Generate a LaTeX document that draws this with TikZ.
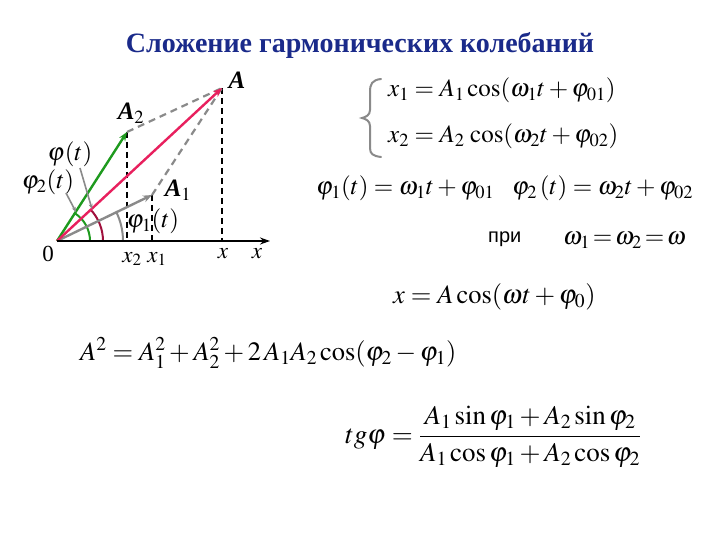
\documentclass[tikz,border=0pt]{standalone}
\usepackage{mathptmx}
\usepackage[no-math]{fontspec}
\setmainfont{Liberation Serif}
\newfontfamily\titlefont{Liberation Serif}
\newfontfamily\sansru{Liberation Sans}
\usetikzlibrary{arrows.meta}
\definecolor{titleblue}{HTML}{1A2A8A}
\definecolor{vecgreen}{HTML}{1E9A1E}
\definecolor{vecpink}{HTML}{E8205E}
\definecolor{arcred}{HTML}{A0103C}
\definecolor{vecgray}{HTML}{8A8A8A}
\begin{document}
\begin{tikzpicture}[x=1pt,y=-1pt,
  eq/.style={font=\fontsize{25}{30}\selectfont, inner sep=0pt},
  eqbig/.style={font=\fontsize{26.5}{31}\selectfont, inner sep=0pt},
  lbl/.style={font=\fontsize{25}{30}\selectfont, inner sep=0pt},
  xlbl/.style={font=\fontsize{23}{28}\selectfont, inner sep=0pt},
  vec/.style={line width=2.4pt, -{Stealth[length=9pt,width=7pt]}},
  proj/.style={black, line width=1.4pt, dash pattern=on 6pt off 4pt},
  para/.style={vecgray, line width=2.2pt, dash pattern=on 7pt off 5pt},
  pointer/.style={vecgray, line width=1.6pt, -{Stealth[length=5pt,width=4pt]}}]
\useasboundingbox (0,0) rectangle (720,540);
\fill[white] (0,0) rectangle (720,540);

% title
\node[font=\fontsize{28}{32}\selectfont\titlefont\bfseries, text=titleblue, inner sep=0pt] (title) at (360,45) {Сложение гармонических колебаний};

% geometry
\coordinate (O) at (57,241);
\coordinate (axend) at (270,241);
\coordinate (A) at (222,88);
\coordinate (A2) at (127,132);
\coordinate (A1) at (152,195);
\coordinate (fA) at (222,241);
\coordinate (fA2) at (127,241);
\coordinate (fA1) at (152,241);

% projections and parallelogram
\draw[proj] (A) -- (fA);
\draw[proj] (A2) -- (fA2);
\draw[proj] (A1) -- (fA1);
\draw[para] (A2) -- (A);
\draw[para] (A1) -- (A);

% angle arcs
\draw[vecgreen, line width=2pt] ([shift={(O)}]0:33pt) arc[start angle=0, end angle=57, radius=33pt];
\draw[arcred, line width=2pt] ([shift={(O)}]0:46pt) arc[start angle=0, end angle=43, radius=46pt];
\draw[vecgray, line width=2pt] ([shift={(O)}]0:66pt) arc[start angle=0, end angle=26, radius=66pt];

% vectors
\draw[vec, vecgray] (O) -- (A1);
\draw[vec, vecgreen] (O) -- (A2);
\draw[vec, vecpink] (O) -- (A);
\draw[line width=2.2pt, -{Stealth[length=10pt,width=7pt]}] (O) -- (axend);

% labels on diagram
\node[lbl] (lA) at (237,80) {\textbf{\textit{A}}};
\node[lbl] (lA2) at (131,113) {\textbf{\textit{A}}$_2$};
\node[lbl] (lA1) at (178,190) {\textbf{\textit{A}}$_1$};
\node[lbl] (lphi) at (70,154) {$\varphi(t)$};
\node[lbl] (lphi2) at (48,182) {$\varphi_2(t)$};
\node[lbl] (lphi1) at (153,221) {$\varphi_1(t)$};
\node[xlbl] (l0) at (48,254) {0};
\node[xlbl] (lx2) at (132,259) {$x_2$};
\node[xlbl] (lx1) at (157,259) {$x_1$};
\node[xlbl] (lx) at (223,254) {$x$};
\node[xlbl] (lxax) at (257,254) {$x$};
\coordinate (p2end) at (76,212);
\coordinate (p2start) at (66,193);
\coordinate (pend) at (92,209);
\coordinate (pstart) at (80,168);
\draw[pointer] (p2start) -- (p2end);
\draw[pointer] (pstart) -- (pend);

% brace
\draw[vecgray, line width=2pt, line cap=round] (381,79) .. controls (372,80) and (370,84) .. (370,92) -- (370,110) .. controls (370,115) and (366,117) .. (362,118) .. controls (366,119) and (370,121) .. (370,126) -- (370,148) .. controls (370,154) and (373,156) .. (381,157);

% equations
\node[eq, anchor=west] (e1) at (388,90) {$x_1 = A_1\cos(\omega_1 t+\varphi_{01})$};
\node[eq, anchor=west] (e2) at (388,136) {$x_2 = A_2\,\cos(\omega_2 t+\varphi_{02})$};
\node[eq, anchor=west] (e3) at (316,188) {$\varphi_1(t) = \omega_1 t+\varphi_{01}$};
\node[eq, anchor=west] (e4) at (512,188) {$\varphi_2\,(t) = \omega_2 t+\varphi_{02}$};
\node[font=\fontsize{20}{24}\selectfont\sansru, inner sep=0pt, anchor=west] (pri) at (488,239) {при};
\node[eq, anchor=west] (e5) at (563,240) {$\omega_1 \,{=}\, \omega_2 \,{=}\, \omega$};
\node[eqbig, anchor=west] (e6) at (393,297) {$x = A\cos(\omega t+\varphi_0)$};
\node[eqbig, anchor=west] (e7) at (80,353) {$A^2 = A_1^2 + A_2^2 + 2\,A_1A_2\cos(\varphi_2-\varphi_1)$};
\node[font=\fontsize{27}{32}\selectfont, inner sep=0pt, anchor=west] (e8) at (345,437) {$\displaystyle tg\varphi = \frac{A_1\sin\varphi_1 + A_2\sin\varphi_2}{A_1\cos\varphi_1 + A_2\cos\varphi_2}$};
\end{tikzpicture}
\end{document}
